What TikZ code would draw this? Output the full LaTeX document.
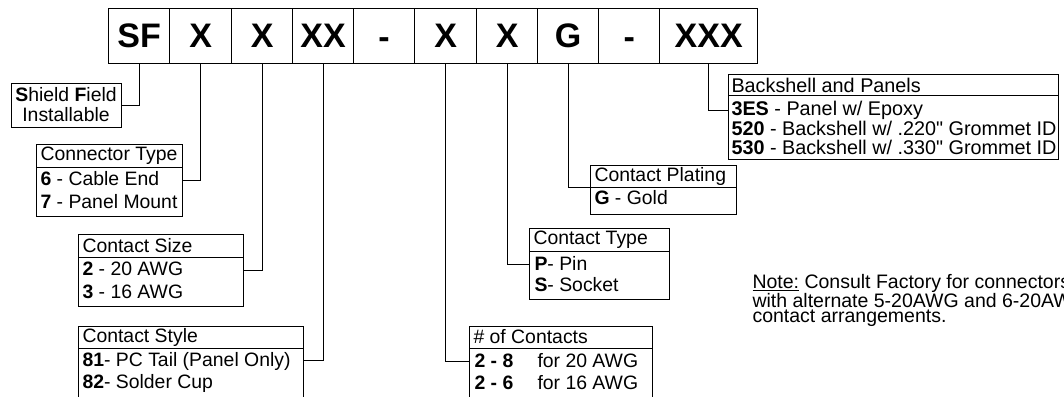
\documentclass[tikz,border=0pt]{standalone}
\usepackage{fontspec}
\setmainfont{Liberation Sans}[Ligatures=TeXOff]
\usetikzlibrary{positioning}
\begin{document}
\begin{tikzpicture}[x=1pt,y=-1pt,
  line width=1pt,
  cell/.style={draw, line width=1.3pt, minimum width=#1, minimum height=55pt, inner sep=0pt, anchor=north west,
    font=\fontsize{34}{36}\selectfont\bfseries},
  bx/.style={draw, inner sep=0pt, anchor=north west},
  txt/.style={anchor=west, inner sep=0pt, font=\fontsize{19.4}{20}\selectfont},
  bstxt/.style={txt, font=\fontsize{19.8}{20}\selectfont},
  conn/.style={draw, line width=1pt}
]
\useasboundingbox (0,0) rectangle (1064,396);
% top cells
\node[cell=61pt] (cSF) at (108,8) {SF};
\node[cell=62pt] (c2) at (169,8) {X};
\node[cell=61pt] (c3) at (231,8) {X};
\node[cell=61pt] (c4) at (292,8) {XX};
\node[cell=61pt] (c5) at (353,8) {\smash{\raisebox{-12.5pt}{-}}};
\node[cell=62pt] (c6) at (414,8) {X};
\node[cell=61pt] (c7) at (476,8) {X};
\node[cell=61pt] (c8) at (537,8) {G};
\node[cell=61pt] (c9) at (598,8) {\smash{\raisebox{-12.5pt}{-}}};
\node[cell=98pt] (c10) at (659,8) {XXX};

% Shield Field
\node[draw, inner sep=0pt, minimum width=110pt, minimum height=44pt, align=center,
  font=\fontsize{19.4}{20}\selectfont] (shield) at (66,105) {\textbf{S}hield \textbf{F}ield\\Installable};

% Connector Type
\node[bx, minimum width=146pt, minimum height=72pt] (ctype) at (36,144) {};
\draw (ctype.north west |- 0,167) -- (ctype.north east |- 0,167);
\node[txt] (ctypeh) at (40,156) {Connector Type};
\node[txt] (ctype1) at (40,179) {\textbf{6} - Cable End};
\node[txt] (ctype2) at (40,202) {\textbf{7} - Panel Mount};

% Contact Size
\node[bx, minimum width=165pt, minimum height=72pt] (csize) at (78,234) {};
\draw (csize.north west |- 0,257) -- (csize.north east |- 0,257);
\node[txt] (csizeh) at (82,246) {Contact Size};
\node[txt] (csize1) at (82,269) {\textbf{2} - 20 AWG};
\node[txt] (csize2) at (82,292) {\textbf{3} - 16 AWG};

% Contact Style
\node[bx, minimum width=225pt, minimum height=80pt] (cstyle) at (78,326) {};
\draw (cstyle.north west |- 0,348) -- (cstyle.north east |- 0,348);
\node[txt] (cstyleh) at (82,337) {Contact Style};
\node[txt] (cstyle1) at (82,361) {\textbf{81}- PC Tail (Panel Only)};
\node[txt] (cstyle2) at (82,383) {\textbf{82}- Solder Cup};

% # of Contacts
\node[bx, minimum width=183pt, minimum height=80pt] (cnum) at (469,326) {};
\draw (cnum.north west |- 0,348) -- (cnum.north east |- 0,348);
\node[txt] (cnumh) at (473,337) {\# of Contacts};
\node[txt] (cnum1a) at (474,361) {\textbf{2 - 8}};
\node[txt] (cnum1b) at (537,361) {for 20 AWG};
\node[txt] (cnum2a) at (474,383) {\textbf{2 - 6}};
\node[txt] (cnum2b) at (537,383) {for 16 AWG};

% Contact Type
\node[bx, minimum width=140pt, minimum height=71pt] (cct) at (529,228) {};
\draw (cct.north west |- 0,251) -- (cct.north east |- 0,251);
\node[txt] (ccth) at (533,240) {Contact Type};
\node[txt] (cct1) at (534,263) {\textbf{P}- Pin};
\node[txt] (cct2) at (534,285) {\textbf{S}- Socket};

% Contact Plating
\node[bx, minimum width=146pt, minimum height=49pt] (plat) at (590,165) {};
\draw (plat.north west |- 0,187) -- (plat.north east |- 0,187);
\node[txt] (plath) at (594,176) {Contact Plating};
\node[txt] (plat1) at (594,198) {\textbf{G} - Gold};

% Backshell and Panels
\node[bx, minimum width=330pt, minimum height=85pt] (bs) at (728,74) {};
\draw (bs.north west |- 0,95) -- (bs.north east |- 0,95);
\node[bstxt] (bsh) at (731,85) {Backshell and Panels};
\node[bstxt] (bs1) at (731,110) {\textbf{3ES} - Panel w/ Epoxy};
\node[bstxt] (bs2) at (731,128.5) {\textbf{520} - Backshell w/ .220" Grommet ID};
\node[bstxt] (bs3) at (731,147) {\textbf{530} - Backshell w/ .330" Grommet ID};

% Note
\node[anchor=north west, inner sep=0pt, align=left, font=\fontsize{19.5}{14.6}\selectfont] (note) at (752,274)
  {\underline{Note:} Consult Factory for connectors\\with alternate 5-20AWG and 6-20AWG\\contact arrangements.};

% connectors
\draw[conn] (cSF.south) |- (shield.east);
\draw[conn] (c2.south) |- (ctype.east);
\draw[conn] (c3.south) |- (csize.east);
\draw[conn] (c4.south) |- ([yshift=-34pt]cstyle.north east);
\draw[conn] (c6.south) |- ([yshift=-35pt]cnum.north west);
\draw[conn] (c7.south) |- (cct.west);
\draw[conn] (c8.south) |- ([yshift=-22pt]plat.north west);
\draw[conn] (c10.south) |- ([yshift=-36pt]bs.north west);
\end{tikzpicture}
\end{document}
